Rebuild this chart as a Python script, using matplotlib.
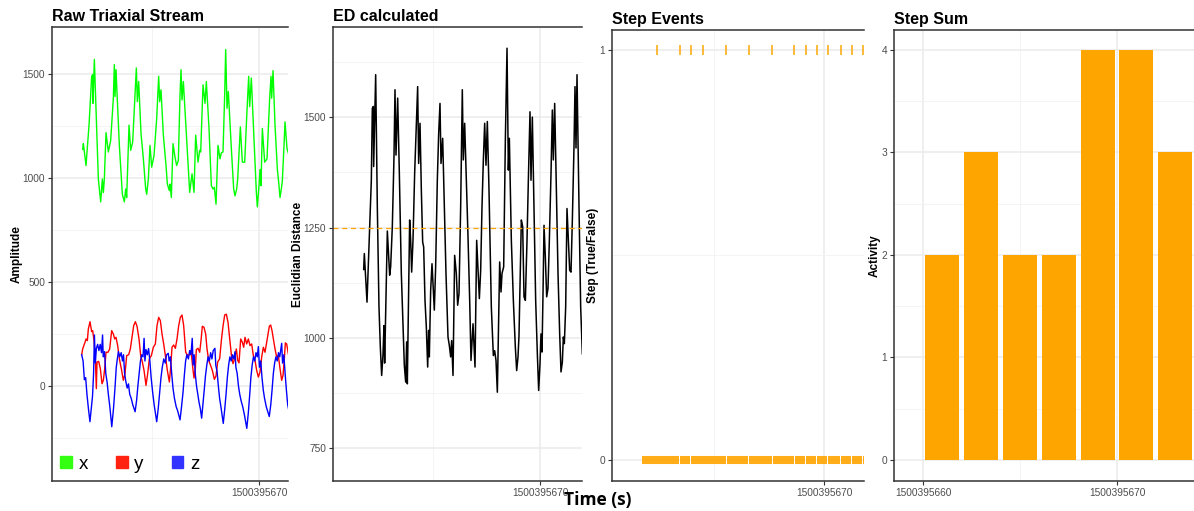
import matplotlib
matplotlib.use("Agg")
import matplotlib.pyplot as plt
from matplotlib.patches import Patch

plt.rcParams['font.family'] = ['Liberation Sans', 'DejaVu Sans']

T0 = 1500395660  # unix time; all times below are offsets (s) from this

# raw triaxial stream as (time, value) vertices
x_time = [1.761, 1.792, 1.916, 2.057, 2.181, 2.228, 2.243, 2.306, 2.493, 2.602, 2.680, 2.726, 2.773,
          2.851, 2.960, 3.069, 3.194, 3.240, 3.272, 3.318, 3.474, 3.614, 3.708, 3.770, 3.817, 3.926,
          4.004, 4.097, 4.206, 4.268, 4.315, 4.377, 4.487, 4.596, 4.705, 4.752, 4.829, 4.907, 4.985,
          5.094, 5.219, 5.312, 5.359, 5.421, 5.530, 5.655, 5.717, 5.811, 5.842, 5.904, 5.982, 6.075,
          6.153, 6.231, 6.309, 6.356, 6.402, 6.465, 6.636, 6.761, 6.870, 6.963, 7.041, 7.150, 7.228,
          7.275, 7.384, 7.477, 7.539, 7.664, 7.773, 7.851, 7.913, 7.991, 8.085, 8.178, 8.240, 8.318,
          8.396, 8.443, 8.505, 8.567, 8.708, 8.817, 8.879, 8.957, 9.004, 9.128, 9.222, 9.331, 9.440,
          9.518, 9.564, 9.642, 9.751, 9.876, 9.922, 10.000, 10.047, 10.094, 10.156, 10.265, 10.374,
          10.499, 10.561, 10.592, 10.655, 10.748, 10.857, 10.935, 10.982, 11.044, 11.091, 11.169,
          11.215, 11.309, 11.40]
x_vals = [1138, 1165, 1060, 1254, 1489, 1497, 1359, 1570, 995, 885, 995, 930, 995,
          1218, 1125, 1181, 1384, 1545, 1392, 1521, 1157, 922, 885, 947, 906, 1254,
          1133, 1173, 1400, 1529, 1367, 1464, 1214, 1092, 947, 922, 995, 1157, 1052,
          1108, 1286, 1489, 1367, 1424, 1206, 1060, 971, 939, 971, 906, 1165, 1100,
          1060, 1084, 1400, 1521, 1375, 1464, 1157, 931, 1020, 931, 1206, 1076, 1133,
          1125, 1448, 1359, 1464, 1238, 963, 947, 955, 874, 1157, 1092, 1121, 1125,
          1400, 1618, 1335, 1416, 1141, 947, 914, 947, 995, 1246, 1076, 1076, 1327,
          1489, 1343, 1481, 1222, 931, 861, 963, 1041, 963, 1238, 1076, 1092,
          1384, 1489, 1384, 1516, 1254, 1044, 963, 906, 947, 987, 1157,
          1270, 1141, 1110]

y_time = [1.714, 1.761, 1.870, 1.916, 1.979, 2.025, 2.103, 2.181, 2.228, 2.290, 2.353, 2.399, 2.430,
          2.508, 2.586, 2.664, 2.726, 2.789, 2.851, 2.944, 3.022, 3.116, 3.194, 3.256, 3.318, 3.396,
          3.474, 3.567, 3.661, 3.739, 3.817, 3.910, 3.988, 4.066, 4.144, 4.222, 4.300, 4.393, 4.471,
          4.549, 4.627, 4.720, 4.798, 4.876, 4.969, 5.063, 5.156, 5.234, 5.312, 5.390, 5.468, 5.546,
          5.624, 5.717, 5.811, 5.873, 5.935, 6.013, 6.091, 6.169, 6.247, 6.325, 6.402, 6.480, 6.574,
          6.667, 6.745, 6.823, 6.901, 6.963, 7.025, 7.072, 7.150, 7.228, 7.290, 7.352, 7.430, 7.508,
          7.571, 7.648, 7.726, 7.820, 7.913, 7.991, 8.069, 8.162, 8.240, 8.318, 8.396, 8.474, 8.552,
          8.630, 8.708, 8.785, 8.863, 8.941, 9.004, 9.066, 9.144, 9.222, 9.284, 9.346, 9.424, 9.502,
          9.580, 9.658, 9.736, 9.813, 9.891, 9.969, 10.047, 10.125, 10.203, 10.281, 10.359, 10.421,
          10.483, 10.546, 10.608, 10.670, 10.748, 10.826, 10.904, 10.982, 11.060, 11.122, 11.184,
          11.231, 11.293, 11.371]
y_vals = [150, 178, 210, 226, 218, 274, 309, 261, 266, 218, 131, -13, 115,
          118, 83, 11, 27, 83, 162, 162, 178, 266, 250, 226, 234, 194,
          131, 83, 27, 59, 146, 150, 178, 234, 290, 309, 287, 226, 146,
          115, 75, 3, 59, 131, 146, 186, 202, 290, 330, 314, 250, 202,
          146, 75, 19, 91, 186, 197, 181, 226, 290, 330, 341, 290, 162,
          146, 150, 170, 91, 38, 83, 175, 181, 162, 218, 287, 282, 250,
          178, 123, 102, 75, 32, 48, 115, 131, 218, 287, 341, 345, 306,
          226, 150, 107, 131, 178, 123, 111, 226, 210, 186, 234, 202, 226,
          194, 202, 146, 123, 75, 43, 67, 139, 186, 162, 210, 245,
          287, 293, 266, 226, 178, 139, 146, 83, 27, 51, 131,
          207, 202, 154]

z_time = [1.714, 1.78, 1.84, 1.90, 1.96, 2.03, 2.10, 2.16, 2.22, 2.27, 2.31, 2.35, 2.40, 2.46, 2.52,
          2.58, 2.64, 2.69, 2.72, 2.78, 2.84, 2.90, 2.96, 3.03, 3.12, 3.20, 3.27, 3.33, 3.38, 3.43,
          3.49, 3.56, 3.62, 3.67, 3.72, 3.78, 3.84, 3.90, 3.96, 4.03, 4.10, 4.21, 4.28, 4.34, 4.40,
          4.46, 4.52, 4.58, 4.63, 4.67, 4.72, 4.78, 4.84, 4.90, 4.96, 5.03, 5.10, 5.22, 5.29, 5.35,
          5.42, 5.48, 5.55, 5.62, 5.68, 5.76, 5.80, 5.86, 5.92, 5.98, 6.05, 6.13, 6.20, 6.31, 6.38,
          6.45, 6.51, 6.57, 6.63, 6.70, 6.76, 6.82, 6.88, 6.92, 6.97, 7.02, 7.08, 7.14, 7.20, 7.26,
          7.32, 7.38, 7.44, 7.50, 7.56, 7.62, 7.68, 7.74, 7.80, 7.86, 7.94, 7.98, 8.04, 8.10, 8.16,
          8.22, 8.33, 8.40, 8.46, 8.52, 8.58, 8.64, 8.70, 8.76, 8.82, 8.88, 8.92, 8.98, 9.04, 9.10,
          9.16, 9.24, 9.32, 9.43, 9.50, 9.56, 9.62, 9.68, 9.74, 9.80, 9.86, 9.92, 9.97, 10.02, 10.08,
          10.14, 10.20, 10.26, 10.34, 10.48, 10.55, 10.61, 10.67, 10.73, 10.79, 10.85, 10.91, 10.97,
          11.06, 11.10, 11.16, 11.22, 11.28, 11.34, 11.40]
z_vals = [150, 120, 30, 40, -40, -110, -172, -110, -50, 60, 245, 110, 180, 200, 170,
          200, 160, 245, 140, 165, 60, 20, -40, -100, -196, -110, -10, 90, 130, 165,
          140, 160, 120, 150, 60, 20, -10, 10, -40, -60, -90, -124, -70, 0, 60,
          120, 150, 140, 229, 120, 175, 150, 180, 120, 40, -30, -90, -172, -110, -40,
          40, 90, 130, 110, 150, 157, 120, 140, 60, -10, -60, -100, -120, -163, -100,
          -30, 50, 120, 150, 130, 170, 150, 229, 100, 150, 60, 0, -40, -80, -110,
          -155, -90, -20, 50, 100, 140, 120, 160, 130, 170, 181, 100, 70, 0, -60,
          -100, -180, -110, -40, 40, 100, 140, 120, 150, 130, 165, 90, 60, 0, -40,
          -70, -100, -140, -204, -130, -50, 40, 100, 140, 120, 160, 140, 189, 90, 120,
          40, -20, -60, -100, -147, -90, -20, 60, 110, 140, 120, 160, 140,
          205, 110, 150, 60, -20, -90, -120]

# euclidian distance
ed_time = [1.760, 1.791, 1.916, 2.118, 2.165, 2.212, 2.227, 2.321, 2.398, 2.476, 2.539, 2.601, 2.663,
           2.710, 2.741, 2.866, 2.975, 3.021, 3.099, 3.177, 3.224, 3.271, 3.349, 3.427, 3.520, 3.598,
           3.660, 3.723, 3.769, 3.800, 3.909, 3.956, 4.003, 4.065, 4.143, 4.221, 4.283, 4.330, 4.393,
           4.455, 4.517, 4.564, 4.626, 4.688, 4.751, 4.797, 4.828, 4.891, 4.953, 5.062, 5.124, 5.202,
           5.265, 5.327, 5.374, 5.452, 5.529, 5.607, 5.701, 5.763, 5.825, 5.872, 5.935, 6.012, 6.090,
           6.152, 6.215, 6.293, 6.370, 6.417, 6.480, 6.636, 6.714, 6.776, 6.870, 6.963, 7.041, 7.103,
           7.166, 7.228, 7.290, 7.353, 7.415, 7.477, 7.539, 7.617, 7.726, 7.820, 7.882, 7.944, 8.007,
           8.116, 8.178, 8.225, 8.303, 8.381, 8.459, 8.521, 8.568, 8.661, 8.755, 8.848, 8.910, 8.973,
           9.019, 9.128, 9.191, 9.253, 9.316, 9.393, 9.456, 9.533, 9.580, 9.642, 9.720, 9.798, 9.876,
           9.938, 10.000, 10.047, 10.094, 10.141, 10.188, 10.250, 10.312, 10.374, 10.437, 10.515,
           10.577, 10.624, 10.686, 10.764, 10.842, 10.920, 10.982, 11.044, 11.091, 11.138, 11.200,
           11.262, 11.325, 11.387, 11.449, 11.512, 11.589, 11.636, 11.683, 11.730, 11.823, 11.901,
           11.979]
ed_vals = [1155, 1191, 1081, 1357, 1520, 1524, 1388, 1596, 1297, 1070, 979, 915, 962,
           1028, 943, 1242, 1142, 1161, 1252, 1410, 1562, 1414, 1543, 1373, 1146, 1032,
           938, 900, 991, 896, 1267, 1221, 1149, 1221, 1373, 1486, 1569, 1395, 1486,
           1335, 1217, 1206, 1085, 1025, 934, 1017, 957, 1108, 1168, 1063, 1161, 1357,
           1463, 1531, 1395, 1452, 1297, 1146, 1002, 983, 957, 994, 915, 1187, 1146,
           1074, 1100, 1297, 1562, 1403, 1486, 1229, 1085, 949, 1032, 934, 1221, 1153,
           1089, 1153, 1297, 1403, 1486, 1391, 1490, 1335, 1070, 960, 971, 949, 877,
           1172, 1104, 1146, 1161, 1448, 1656, 1380, 1452, 1221, 1085, 979, 926, 957,
           1006, 1267, 1252, 1093, 1085, 1221, 1357, 1512, 1357, 1500, 1297, 1085, 964,
           881, 941, 1009, 968, 1100, 1255, 1183, 1093, 1112, 1221, 1373,
           1516, 1403, 1531, 1335, 1146, 1009, 923, 945, 1002, 987, 1070,
           1293, 1221, 1153, 1149, 1267, 1433, 1569, 1430, 1596, 1297, 1070,
           964]
ed_threshold = 1250

# step detection
step_start = 1.727
step_end = 12.0
step_events = [2.41, 3.45, 3.95, 4.50, 5.55, 6.59, 7.64, 8.64, 9.18, 9.68, 10.18, 10.77, 11.27, 11.77]

# step sum per 2 s window
sum_centers = [1, 3, 5, 7, 9, 11, 13]
sum_counts = [2, 3, 2, 2, 4, 4, 3]

W, H = 1194, 511
fig = plt.figure(figsize=(W / 100, H / 100), dpi=100)


def make_axes(left, right, top, bottom):
    return fig.add_axes([left / W, 1 - bottom / H, (right - left) / W, (bottom - top) / H])


def style(ax, title, ylabel, label_x, xmajor, xminor):
    ax.set_facecolor('white')
    for side in ['top', 'left', 'bottom']:
        ax.spines[side].set_color('#333333')
        ax.spines[side].set_linewidth(1.1)
    ax.spines['right'].set_visible(False)
    ax.set_xticks(xmajor)
    ax.set_xticklabels([f"{T0 + v:.0f}" for v in xmajor])
    ax.set_xticks(xminor, minor=True)
    ax.grid(which='major', color='#EBEBEB', lw=1.1, zorder=0)
    ax.grid(which='minor', color='#F2F2F2', lw=0.6, zorder=0)
    ax.set_axisbelow(True)
    ax.tick_params(which='major', length=3, width=0.8, color='#333333', labelsize=7.3,
                   labelcolor='#4D4D4D', pad=2)
    ax.tick_params(which='minor', length=0)
    ax.set_title(title, loc='left', fontsize=11.5, fontweight='bold', pad=4)
    ax.set_ylabel(ylabel, fontsize=8.5, fontweight='bold')
    ax.yaxis.set_label_coords(label_x, 0.5)


# panel 1: raw stream
ax1 = make_axes(52, 288, 27, 481)
ax1.plot(x_time, x_vals, color='#00FF00', lw=1)
ax1.plot(y_time, y_vals, color='#FF0000', lw=1)
ax1.plot(z_time, z_vals, color='#0000FF', lw=1)
ax1.set_xlim(0.327, 11.355)
ax1.set_ylim(-457, 1726)
ax1.set_yticks([0, 500, 1000, 1500])
ax1.set_yticks([-250, 250, 750, 1250], minor=True)
style(ax1, 'Raw Triaxial Stream', 'Amplitude', -0.125, [10], [5])
handles = [Patch(color='#33FF11'), Patch(color='#FF2211'), Patch(color='#3333FF')]
ax1.legend(handles, ['x', 'y', 'z'], loc='lower left', ncol=3, frameon=False, fontsize=13.5,
           handlelength=0.62, handleheight=0.62, handletextpad=0.35, columnspacing=1.5,
           borderaxespad=0.15, borderpad=0.3)

# panel 2: euclidian distance
ax2 = make_axes(333, 582, 27, 481)
ax2.plot(ed_time, ed_vals, color='black', lw=1.1)
ax2.axhline(ed_threshold, color='#FFA500', lw=0.9, ls=(0, (4, 3)))
ax2.set_xlim(0.327, 11.963)
ax2.set_ylim(676, 1704)
ax2.set_yticks([750, 1000, 1250, 1500])
ax2.set_yticks([875, 1125, 1375, 1625], minor=True)
style(ax2, 'ED calculated', 'Euclidian Distance', -0.118, [10], [5])

# panel 3: step events
ax3 = make_axes(612, 864, 30, 481)
bounds = [step_start] + step_events + [step_end]
gap = 0.022
for a, b in zip(bounds[:-1], bounds[1:]):
    ax3.hlines(0, a + gap, b - gap, color='#FFA500', alpha=0.9, lw=5.8, capstyle='butt')
ax3.plot(step_events, [1] * len(step_events), ls='none', marker='|', ms=6.5, mew=1.2,
         color='#FFA500', alpha=0.9)
ax3.set_xlim(0.364, 11.818)
ax3.set_ylim(-0.0512, 1.0488)
ax3.set_yticks([0, 1])
ax3.set_yticks([0.5], minor=True)
style(ax3, 'Step Events', 'Step (True/False)', -0.05, [10], [5])

# panel 4: step sum
ax4 = make_axes(894, 1194, 30, 481)
ax4.bar(sum_centers, sum_counts, width=1.75, color='#FFA500', zorder=2)
ax4.set_xlim(-1.495, 13.97)
ax4.set_ylim(-0.205, 4.195)
ax4.set_yticks([0, 1, 2, 3, 4])
ax4.set_yticks([0.5, 1.5, 2.5, 3.5], minor=True)
style(ax4, 'Step Sum', 'Activity', -0.045, [0, 10], [5])

fig.text(598 / W, 1 - 500 / H, 'Time (s)', ha='center', va='center', fontsize=12.5,
         fontweight='bold', family=['Open Sans', 'DejaVu Sans'])

fig.savefig('out.png', dpi=100, facecolor='white')
